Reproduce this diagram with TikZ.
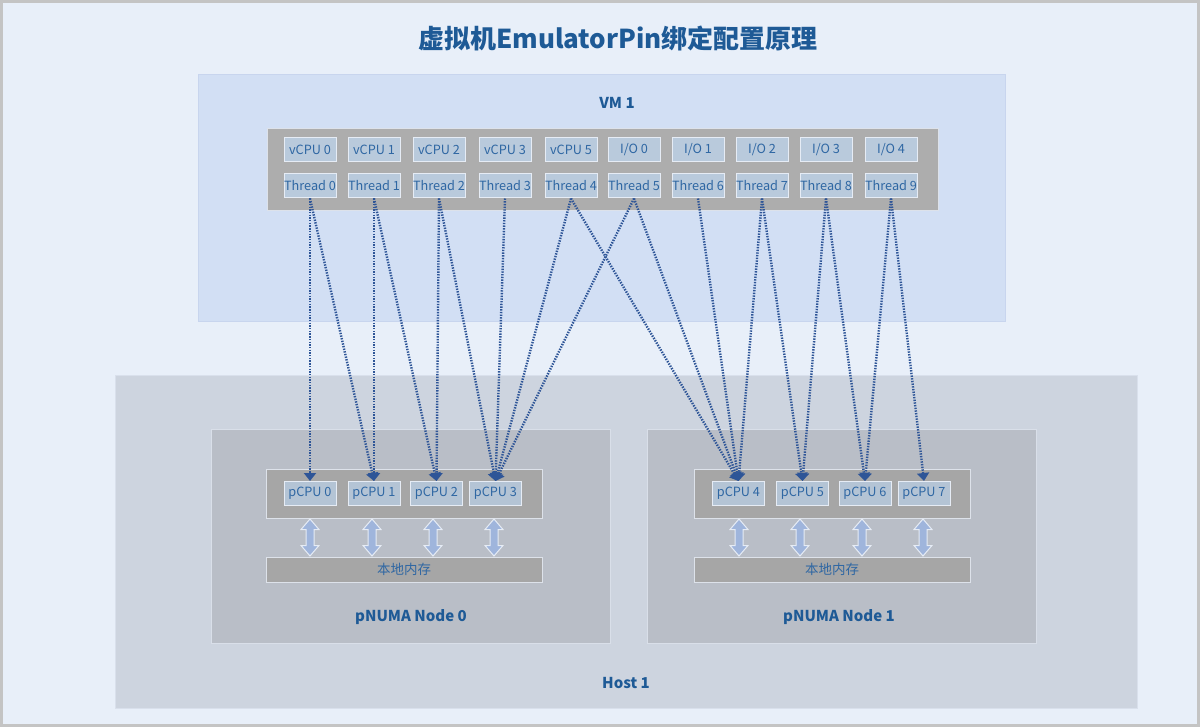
\documentclass[tikz,border=0pt]{standalone}
\usepackage{fontspec}
\setmainfont{Noto Sans CJK SC}
\usetikzlibrary{arrows.meta}
\definecolor{bgc}{HTML}{E8EFF9}
\definecolor{framec}{HTML}{C4C4C4}
\definecolor{vmc}{HTML}{D2DFF4}
\definecolor{vmb}{HTML}{C8D5EE}
\definecolor{hostc}{HTML}{CDD4DF}
\definecolor{hostb}{HTML}{D9E0EC}
\definecolor{nodec}{HTML}{B9BEC7}
\definecolor{nodeb}{HTML}{D9DFE9}
\definecolor{panelc}{HTML}{ADADAD}
\definecolor{panelb}{HTML}{DDE2EA}
\definecolor{boxc}{HTML}{B9CADC}
\definecolor{boxb}{HTML}{E6ECF5}
\definecolor{txtc}{HTML}{2F67A3}
\definecolor{titlec}{HTML}{1E5A96}
\definecolor{linec}{HTML}{2E5597}
\definecolor{darrc}{HTML}{9FB5DC}
\tikzset{
  x=1pt, y=-1pt,
  area/.style={anchor=north west, inner sep=0pt, outer sep=0pt, line width=1pt},
  cpubox/.style={draw=boxb, fill=boxc, line width=1pt, minimum width=52pt, minimum height=24pt, inner sep=0pt, text=txtc, font=\fontsize{12.7}{15}\selectfont},
  lbl/.style={text=titlec, font=\fontsize{15}{18}\selectfont\bfseries},
  bind/.style={draw=linec, line width=2.4pt, dash pattern=on 1.4pt off 1.3pt, -{Triangle[length=8pt,width=12pt]}, shorten >=0pt},
  memarrow/.pic={
    \filldraw[fill=darrc, draw=boxb, line width=1pt, line join=miter]
      (0,-18.5) -- (9,-8) -- (4,-8) -- (4,8) -- (9,8) -- (0,18.5) -- (-9,8) -- (-4,8) -- (-4,-8) -- (-9,-8) -- cycle;
  },
}
\begin{document}
\begin{tikzpicture}
\useasboundingbox (0,0) rectangle (1200,727);
% frame
\fill[framec] (0,0) rectangle (1200,727);
\fill[bgc] (3,3) rectangle (1197,724);
\node[text=titlec, font=\fontsize{26}{30}\selectfont\bfseries] (title) at (618,38) {虚拟机EmulatorPin绑定配置原理};
% VM
\node[area, fill=vmc, draw=vmb, minimum width=807pt, minimum height=247pt] (vm) at (198,75) {};
\node[lbl] (vmlbl) at (617,103) {VM 1};
\node[area, fill=panelc, draw=panelb, minimum width=671pt, minimum height=82pt] (tpanel) at (267,129) {};
% Host
\node[area, fill=hostc, draw=hostb, minimum width=1022pt, minimum height=332pt] (host) at (115,376) {};
\node[lbl] (hostlbl) at (626,683) {Host 1};
\node[area, fill=nodec, draw=nodeb, minimum width=399pt, minimum height=214pt] (n0) at (211,429) {};
\node[area, fill=nodec, draw=nodeb, minimum width=389pt, minimum height=214pt] (n1) at (647,429) {};
\node[lbl] (n0lbl) at (411,617) {pNUMA Node 0};
\node[lbl] (n1lbl) at (839,617) {pNUMA Node 1};
\node[area, fill=panelc!96!black, draw=panelb, minimum width=276pt, minimum height=49pt] (pp0) at (266,469) {};
\node[area, fill=panelc!96!black, draw=panelb, minimum width=276pt, minimum height=49pt] (pp1) at (694,469) {};
\node[area, fill=panelc!96!black, draw=panelb, minimum width=276pt, minimum height=25pt] (mem0) at (266,557) {};
\node[area, fill=panelc!96!black, draw=panelb, minimum width=276pt, minimum height=25pt] (mem1) at (694,557) {};
\node[text=txtc, font=\fontsize{13.5}{15}\selectfont] (mem0t) at (mem0.center) {本地内存};
\node[text=txtc, font=\fontsize{13.5}{15}\selectfont] (mem1t) at (mem1.center) {本地内存};
% vCPU / IO row
\node[cpubox] (v0) at (310,149.5) {vCPU 0};
\node[cpubox] (v1) at (374,149.5) {vCPU 1};
\node[cpubox] (v2) at (439,149.5) {vCPU 2};
\node[cpubox] (v3) at (505,149.5) {vCPU 3};
\node[cpubox] (v5) at (571,149.5) {vCPU 5};
\node[cpubox] (io0) at (634,149.5) {I/O 0};
\node[cpubox] (io1) at (698,149.5) {I/O 1};
\node[cpubox] (io2) at (762,149.5) {I/O 2};
\node[cpubox] (io3) at (826,149.5) {I/O 3};
\node[cpubox] (io4) at (891,149.5) {I/O 4};
% threads
\node[cpubox] (t0) at (310,186) {Thread 0};
\node[cpubox] (t1) at (374,186) {Thread 1};
\node[cpubox] (t2) at (439,186) {Thread 2};
\node[cpubox] (t3) at (505,186) {Thread 3};
\node[cpubox] (t4) at (571,186) {Thread 4};
\node[cpubox] (t5) at (634,186) {Thread 5};
\node[cpubox] (t6) at (698,186) {Thread 6};
\node[cpubox] (t7) at (762,186) {Thread 7};
\node[cpubox] (t8) at (826,186) {Thread 8};
\node[cpubox] (t9) at (891,186) {Thread 9};
% pCPUs
\node[cpubox, fill=boxc!92!gray] (p0) at (310,493.5) {pCPU 0};
\node[cpubox, fill=boxc!92!gray] (p1) at (374,493.5) {pCPU 1};
\node[cpubox, fill=boxc!92!gray] (p2) at (436.5,493.5) {pCPU 2};
\node[cpubox, fill=boxc!92!gray] (p3) at (495.5,493.5) {pCPU 3};
\node[cpubox, fill=boxc!92!gray] (p4) at (738.5,493.5) {pCPU 4};
\node[cpubox, fill=boxc!92!gray] (p5) at (802.5,493.5) {pCPU 5};
\node[cpubox, fill=boxc!92!gray] (p6) at (865,493.5) {pCPU 6};
\node[cpubox, fill=boxc!92!gray] (p7) at (924,493.5) {pCPU 7};
% memory arrows
\foreach \x in {310,372,433,494,739,800,862,923}
  \pic at (\x,537.5) {memarrow};
% bindings
\foreach \a/\b in {t0/p0,t0/p1,t1/p1,t1/p2,t2/p2,t2/p3,t3/p3,t4/p3,t4/p4,t5/p3,t5/p4,t6/p4,t7/p4,t7/p5,t8/p5,t8/p6,t9/p6,t9/p7}
  \draw[bind] (\a.south) -- (\b.north);
\end{tikzpicture}
\end{document}
